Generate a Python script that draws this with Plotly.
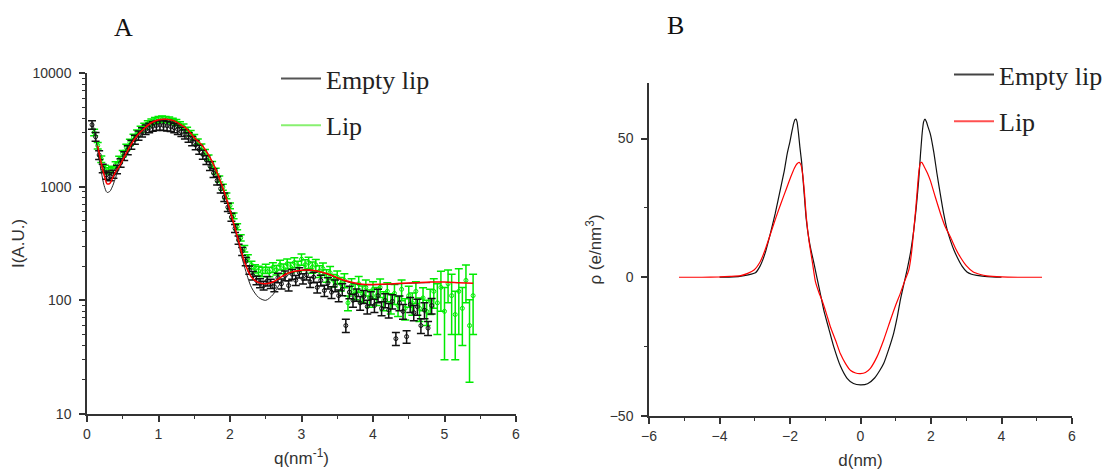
import plotly.graph_objects as go

# ---------------- Panel A data (SAXS curves) ----------------
q_empty = [0.07, 0.12, 0.17, 0.22, 0.27, 0.32, 0.37, 0.42, 0.47, 0.52, 0.57, 0.62, 0.67, 0.72, 0.77, 0.82,
           0.87, 0.92, 0.97, 1.02, 1.07, 1.12, 1.17, 1.22, 1.27, 1.32, 1.37, 1.42, 1.47, 1.52, 1.57, 1.62,
           1.67, 1.72, 1.77, 1.82, 1.87, 1.92, 1.97, 2.02, 2.07, 2.12, 2.17, 2.22, 2.27, 2.32, 2.37, 2.42,
           2.47, 2.52, 2.57, 2.62, 2.67, 2.72, 2.77, 2.82, 2.87, 2.92, 2.97, 3.02, 3.07, 3.12, 3.17, 3.22,
           3.27, 3.32, 3.37, 3.42, 3.47, 3.52, 3.57, 3.62, 3.67, 3.72, 3.77, 3.82, 3.87, 3.92, 3.97, 4.02,
           4.07, 4.12, 4.17, 4.22, 4.27, 4.32, 4.37, 4.42, 4.47, 4.52, 4.57, 4.62, 4.67, 4.72, 4.77, 4.82]
i_empty = [3500, 2750, 1900, 1450, 1270, 1230, 1290, 1420, 1620, 1860, 2100, 2350, 2600, 2820, 3020, 3180,
           3300, 3400, 3450, 3480, 3460, 3430, 3380, 3300, 3180, 3050, 2900, 2720, 2530, 2330, 2120, 1920,
           1720, 1520, 1320, 1130, 960, 810, 660, 540, 430, 340, 270, 220, 185, 165, 150, 142,
           135, 148, 140, 132, 158, 140, 165, 135, 170, 150, 175, 155, 168, 145, 160, 130,
           150, 122, 142, 118, 135, 110, 125, 60, 118, 100, 112, 95, 108, 88, 105, 90,
           110, 85, 100, 82, 98, 46, 95, 80, 48, 92, 78, 88, 60, 82, 57, 90]
err_empty = [300, 240, 170, 125, 105, 100, 105, 120, 140, 165, 190, 215, 240, 265, 285, 300,
             315, 325, 335, 340, 340, 335, 330, 320, 305, 290, 275, 255, 235, 215, 195, 175,
             155, 135, 115, 98, 82, 68, 55, 44, 35, 28, 22, 18, 15, 14, 13, 13,
             12, 14, 13, 13, 15, 14, 16, 14, 17, 15, 18, 16, 17, 15, 17, 14,
             16, 14, 16, 14, 16, 13, 15, 8, 15, 13, 14, 13, 14, 12, 14, 12,
             15, 12, 14, 12, 14, 6, 14, 12, 6, 14, 12, 14, 9, 13, 8, 14]

q_lip = [0.10, 0.15, 0.20, 0.25, 0.30, 0.35, 0.40, 0.45, 0.50, 0.55, 0.60, 0.65, 0.70, 0.75, 0.80, 0.85,
         0.90, 0.95, 1.00, 1.05, 1.10, 1.15, 1.20, 1.25, 1.30, 1.35, 1.40, 1.45, 1.50, 1.55, 1.60, 1.65,
         1.70, 1.75, 1.80, 1.85, 1.90, 1.95, 2.00, 2.05, 2.10, 2.15, 2.20, 2.25, 2.30, 2.35, 2.40, 2.45,
         2.50, 2.55, 2.60, 2.65, 2.70, 2.75, 2.80, 2.85, 2.90, 2.95, 3.00, 3.05, 3.10, 3.15, 3.20, 3.25,
         3.30, 3.35, 3.40, 3.45, 3.50, 3.55, 3.60, 3.65, 3.70, 3.75, 3.80, 3.85, 3.90, 3.95, 4.00, 4.05,
         4.10, 4.15, 4.20, 4.25, 4.30, 4.35, 4.40, 4.45, 4.50, 4.55, 4.60, 4.65, 4.70, 4.75, 4.80, 4.85,
         4.90, 4.95, 5.00, 5.05, 5.10, 5.15, 5.20, 5.25, 5.30, 5.35, 5.40]
i_lip = [3000, 2300, 1750, 1450, 1380, 1420, 1560, 1740, 1960, 2220, 2460, 2720, 2960, 3200, 3400, 3580,
         3720, 3820, 3900, 3940, 3900, 3860, 3780, 3680, 3520, 3350, 3150, 2950, 2720, 2480, 2240, 2010,
         1790, 1570, 1370, 1170, 990, 830, 680, 555, 445, 355, 285, 235, 205, 190, 182, 178,
         190, 178, 195, 185, 205, 190, 210, 195, 215, 200, 230, 205, 215, 195, 205, 180,
         190, 165, 175, 150, 160, 140, 150, 95, 135, 120, 140, 115, 130, 105, 125, 110,
         130, 100, 120, 95, 115, 90, 125, 85, 110, 95, 120, 85, 105, 80, 100, 120,
         95, 130, 80, 140, 110, 75, 120, 85, 150, 60, 110]
err_lip = [200, 150, 115, 95, 90, 92, 100, 112, 125, 140, 155, 170, 185, 200, 210, 220,
           228, 232, 236, 238, 236, 232, 228, 222, 212, 200, 188, 175, 160, 146, 132, 118,
           105, 92, 80, 69, 58, 49, 40, 33, 27, 22, 19, 17, 16, 16, 17, 17,
           18, 17, 19, 18, 20, 19, 21, 20, 22, 21, 26, 22, 24, 22, 24, 21,
           23, 21, 23, 19, 21, 19, 21, 14, 20, 19, 22, 19, 21, 18, 21, 20,
           24, 19, 23, 19, 23, 18, 26, 18, 23, 21, 26, 20, 24, 20, 25, 35,
           45, 50, 50, 45, 60, 45, 70, 45, 55, 41, 60]

q_fit_empty = [0.08, 0.12, 0.16, 0.20, 0.24, 0.28, 0.32, 0.36, 0.40, 0.45, 0.50, 0.60, 0.70, 0.80, 0.90, 1.00,
               1.10, 1.20, 1.30, 1.40, 1.50, 1.60, 1.70, 1.80, 1.90, 2.00, 2.10, 2.20, 2.30, 2.40, 2.50, 2.60,
               2.70, 2.80, 2.90, 3.00, 3.10, 3.20, 3.30, 3.40, 3.50, 3.60, 3.70, 3.80, 3.90, 4.00, 4.20, 4.40,
               4.60, 4.80]
i_fit_empty = [3700, 2700, 1900, 1350, 1020, 890, 910, 1020, 1200, 1470, 1720, 2250, 2800, 3250, 3650, 3880,
               3920, 3830, 3550, 3200, 2700, 2350, 1900, 1420, 960, 600, 350, 200, 130, 106, 100, 112,
               140, 165, 178, 183, 185, 182, 175, 166, 156, 148, 142, 138, 137, 137, 138, 140,
               142, 143]

q_fit_lip = [0.15, 0.20, 0.25, 0.28, 0.32, 0.36, 0.40, 0.45, 0.50, 0.60, 0.70, 0.80, 0.90, 1.00, 1.10, 1.20,
             1.30, 1.40, 1.50, 1.60, 1.70, 1.80, 1.90, 2.00, 2.10, 2.20, 2.30, 2.40, 2.50, 2.60, 2.70, 2.80,
             2.90, 3.00, 3.10, 3.20, 3.30, 3.40, 3.50, 3.60, 3.70, 3.80, 3.90, 4.00, 4.20, 4.40, 4.60, 4.80,
             5.00, 5.20, 5.40]
i_fit_lip = [2290, 1600, 1200, 1060, 1070, 1200, 1350, 1500, 1720, 2250, 2800, 3250, 3650, 3880, 3920, 3830,
             3550, 3200, 2700, 2350, 1900, 1420, 980, 620, 370, 220, 160, 143, 140, 145, 158, 172,
             180, 184, 185, 182, 176, 168, 158, 150, 144, 140, 138, 138, 139, 141, 143, 145,
             145, 143, 141]

# ---------------- Panel B data (electron density profiles) ----------------
d_empty = [-4.0, -3.6, -3.3, -3.1, -2.98, -2.85, -2.71, -2.57, -2.42, -2.26, -2.16, -2.08, -2.0, -1.94,
           -1.9, -1.86, -1.83, -1.8, -1.76, -1.72, -1.67, -1.6, -1.54, -1.46, -1.4, -1.32, -1.23, -1.13,
           -1.04, -0.9, -0.76, -0.57, -0.38, -0.2, 0.0, 0.2, 0.4, 0.55, 0.66, 0.8, 0.94, 1.04,
           1.13, 1.22, 1.32, 1.42, 1.51, 1.58, 1.65, 1.70, 1.75, 1.79, 1.83, 1.87, 1.92, 1.98,
           2.08, 2.17, 2.27, 2.36, 2.45, 2.55, 2.65, 2.74, 2.88, 3.02, 3.15, 3.3, 3.6, 4.0]
rho_empty = [0.0, 0.1, 0.6, 1.1, 1.6, 4.0, 8.5, 15.1, 22.9, 32.5, 38.5, 44.5, 49.0, 52.9,
             55.3, 56.8, 57.0, 56.0, 52.0, 47.0, 41.5, 30.5, 21.0, 13.5, 9.5, 5.0, -0.5, -6.5,
             -11.9, -18.5, -25.0, -32.0, -36.4, -38.3, -38.8, -38.4, -36.3, -33.5, -31.0, -26.0, -20.2, -14.5,
             -8.2, -3.0, 2.6, 9.0, 16.9, 25.0, 34.9, 44.0, 52.0, 56.0, 57.0, 56.0, 54.0, 51.7,
             45.0, 37.3, 29.5, 22.9, 17.5, 13.3, 9.8, 7.3, 4.0, 1.9, 1.1, 0.7, 0.2, 0.0]

d_lip = [-5.15, -4.5, -4.0, -3.7, -3.4, -3.2, -3.02, -2.85, -2.71, -2.52, -2.4, -2.26, -2.1, -1.98,
         -1.88, -1.8, -1.74, -1.69, -1.64, -1.59, -1.54, -1.46, -1.36, -1.28, -1.18, -1.09, -0.97, -0.85,
         -0.7, -0.57, -0.42, -0.28, -0.14, 0.0, 0.14, 0.28, 0.47, 0.66, 0.85, 1.0, 1.13, 1.25,
         1.37, 1.45, 1.51, 1.57, 1.62, 1.66, 1.70, 1.74, 1.80, 1.9, 1.98, 2.12, 2.27, 2.4,
         2.55, 2.7, 2.83, 3.0, 3.2, 3.4, 3.58, 4.0, 4.5, 5.15]
rho_lip = [0.0, 0.0, 0.1, 0.3, 0.6, 1.4, 2.6, 5.5, 9.7, 16.9, 21.5, 26.5, 32.0, 36.1,
           39.2, 40.9, 41.4, 40.5, 37.0, 30.5, 22.0, 13.0, 5.0, -1.5, -5.5, -8.4, -13.0, -18.0,
           -23.0, -27.6, -31.2, -33.6, -34.5, -34.7, -34.3, -32.8, -28.6, -22.5, -15.4, -10.0, -5.8, -1.5,
           2.6, 9.0, 16.9, 25.0, 33.0, 38.5, 41.2, 41.4, 40.0, 37.5, 34.9, 29.0, 22.9, 18.3,
           14.5, 10.3, 7.3, 4.2, 1.9, 1.0, 0.5, 0.1, 0.0, 0.0]

GREEN = "rgb(0,235,0)"
BLACK = "#111111"
RED = "#ff0000"
AXC = "#333333"
SERIF = "Liberation Serif"
SANS = "Liberation Sans"

fig = go.Figure()

# Panel A: data with error bars
fig.add_trace(go.Scatter(x=q_lip, y=i_lip, mode="markers", xaxis="x", yaxis="y", showlegend=False,
                         marker=dict(symbol="circle-open", size=4, color=GREEN, line=dict(width=1)),
                         error_y=dict(type="data", array=err_lip, color=GREEN, thickness=1.5, width=4)))
fig.add_trace(go.Scatter(x=q_empty, y=i_empty, mode="markers", xaxis="x", yaxis="y", showlegend=False,
                         marker=dict(symbol="circle-open", size=4, color=BLACK, line=dict(width=1)),
                         error_y=dict(type="data", array=err_empty, color=BLACK, thickness=1.5, width=4)))
fig.add_trace(go.Scatter(x=q_fit_empty, y=i_fit_empty, mode="lines", xaxis="x", yaxis="y", showlegend=False,
                         line=dict(color="#222222", width=1, shape="spline", smoothing=0.8)))
fig.add_trace(go.Scatter(x=q_fit_lip, y=i_fit_lip, mode="lines", xaxis="x", yaxis="y", showlegend=False,
                         line=dict(color=RED, width=1.5, shape="spline", smoothing=0.8)))

# Panel B: profiles
fig.add_trace(go.Scatter(x=d_empty, y=rho_empty, mode="lines", xaxis="x2", yaxis="y2", showlegend=False,
                         line=dict(color=BLACK, width=1.2, shape="spline", smoothing=0.5)))
fig.add_trace(go.Scatter(x=d_lip, y=rho_lip, mode="lines", xaxis="x2", yaxis="y2", showlegend=False,
                         line=dict(color=RED, width=1.2, shape="spline", smoothing=0.5)))

# Legend entries
fig.add_trace(go.Scatter(x=[None], y=[None], mode="lines", name="Empty lip", legend="legend",
                         legendgroup="a1", line=dict(color="#555555", width=2), xaxis="x", yaxis="y"))
fig.add_trace(go.Scatter(x=[None], y=[None], mode="lines", name="Lip", legend="legend",
                         legendgroup="a2", line=dict(color="#88f070", width=2), xaxis="x", yaxis="y"))
fig.add_trace(go.Scatter(x=[None], y=[None], mode="lines", name="Empty lip", legend="legend2",
                         legendgroup="b1", line=dict(color="#444444", width=2), xaxis="x2", yaxis="y2"))
fig.add_trace(go.Scatter(x=[None], y=[None], mode="lines", name="Lip", legend="legend2",
                         legendgroup="b2", line=dict(color="#ff5050", width=2), xaxis="x2", yaxis="y2"))

tickfont = dict(family=SANS, size=14, color=AXC)
titlefont = dict(family=SANS, size=17, color=AXC)
common = dict(showline=True, linecolor=AXC, linewidth=1.5, ticks="outside", ticklen=6, tickwidth=1.5,
              tickcolor=AXC, showgrid=False, zeroline=False, tickfont=tickfont, automargin=False)

W, H = 1113, 470

fig.update_layout(
    width=W, height=H,
    margin=dict(l=0, r=0, t=0, b=0, autoexpand=False),
    paper_bgcolor="white", plot_bgcolor="white",
    xaxis=dict(domain=[87 / W, 516 / W], range=[0, 6], anchor="y", dtick=1,
               minor=dict(dtick=0.5, ticks="outside", ticklen=3, tickcolor=AXC, tickwidth=1.2),
               title=dict(text="q(nm<sup>-1</sup>)", font=titlefont, standoff=12), **common),
    yaxis=dict(domain=[1 - 414 / H, 1 - 73 / H], type="log", range=[1, 4], anchor="x",
               tickmode="array", tickvals=[10, 100, 1000, 10000], ticktext=["10", "100", "1000", "10000"],
               ticklabelstandoff=5,
               minor=dict(tickmode="array",
                          tickvals=[20, 30, 40, 50, 60, 70, 80, 90, 200, 300, 400, 500, 600, 700, 800, 900,
                                    2000, 3000, 4000, 5000, 6000, 7000, 8000, 9000],
                          ticks="outside", ticklen=3, tickcolor=AXC, tickwidth=1.2),
               title=dict(text="I(A.U.)", font=titlefont, standoff=4), **common),
    xaxis2=dict(domain=[649 / W, 1072 / W], range=[-6, 6], anchor="y2", dtick=2,
                minor=dict(dtick=1, ticks="outside", ticklen=3, tickcolor=AXC, tickwidth=1.2),
                title=dict(text="d(nm)", font=titlefont, standoff=12), **common),
    yaxis2=dict(domain=[1 - 416 / H, 1 - 83 / H], range=[-50, 70], anchor="x2",
                tickmode="array", tickvals=[-50, 0, 50], ticklabelstandoff=5,
                minor=dict(tickmode="array", tickvals=[-25, 25], ticks="outside", ticklen=3,
                           tickcolor=AXC, tickwidth=1.2),
                title=dict(text="ρ (e/nm<sup>3</sup>)", font=titlefont, standoff=4), **common),
    legend=dict(x=276 / W, y=1 - 55 / H, xanchor="left", yanchor="top", bgcolor="rgba(0,0,0,0)",
                font=dict(family=SERIF, size=26, color="#222222"), tracegroupgap=10, itemwidth=40),
    legend2=dict(x=949 / W, y=1 - 51 / H, xanchor="left", yanchor="top", bgcolor="rgba(0,0,0,0)",
                 font=dict(family=SERIF, size=26, color="#222222"), tracegroupgap=10, itemwidth=40),
    annotations=[
        dict(text="A", x=123 / W, y=1 - 28 / H, xref="paper", yref="paper", showarrow=False,
             xanchor="center", yanchor="middle", font=dict(family=SERIF, size=26, color="#111111")),
        dict(text="B", x=675 / W, y=1 - 25 / H, xref="paper", yref="paper", showarrow=False,
             xanchor="center", yanchor="middle", font=dict(family=SERIF, size=26, color="#111111")),
    ],
)

fig.write_html("out.html", config={"displayModeBar": False},
               post_script="document.body.style.margin='0';document.body.style.overflow='hidden';")
